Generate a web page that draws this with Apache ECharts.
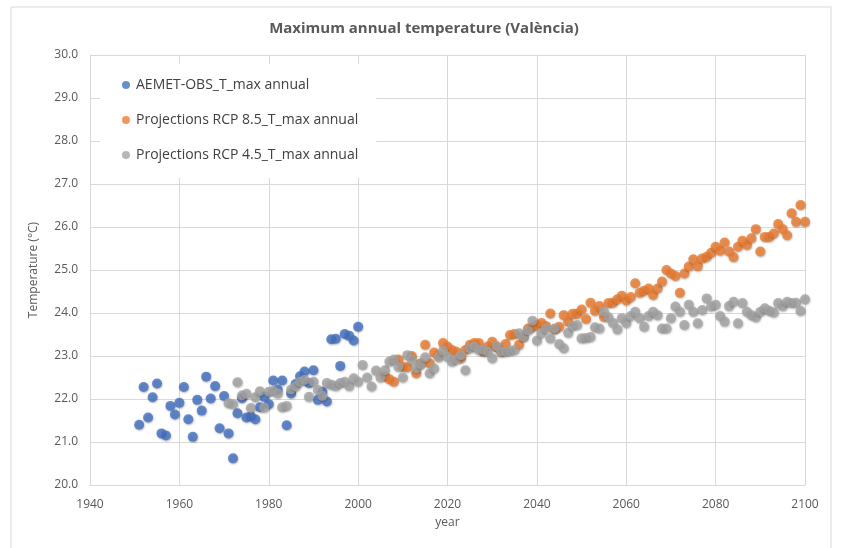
<!DOCTYPE html>
<html>
<head>
<meta charset="utf-8">
<script src="https://cdn.jsdelivr.net/npm/echarts@6/dist/echarts.min.js"></script>
<style>html,body{margin:0;padding:0;background:#fff}#c{width:848px;height:548px}</style>
</head>
<body>
<div id="c"></div>
<script>
// ---- data ----
const titleText = 'Maximum annual temperature (València)';
const seriesNames = ['AEMET-OBS_T_max annual', 'Projections RCP 8.5_T_max annual', 'Projections RCP 4.5_T_max annual'];
const xTicks = [1940, 1960, 1980, 2000, 2020, 2040, 2060, 2080, 2100];
const yTicks = [20, 21, 22, 23, 24, 25, 26, 27, 28, 29, 30];

const obsStartYear = 1951;
const obsValues = [
  21.40, 22.28, 21.57, 22.04, 22.36, 21.20, 21.15, 21.84, 21.64, 21.91,
  22.28, 21.53, 21.12, 21.98, 21.73, 22.52, 22.01, 22.30, 21.32, 22.07,
  21.20, 20.62, 21.67, 22.02, 21.57, 21.60, 21.53, 21.81, 22.05, 21.88,
  22.43, 22.22, 22.43, 21.39, 22.13, 22.35, 22.53, 22.64, 22.37, 22.67,
  21.98, 22.17, 21.94, 23.39, 23.40, 22.77, 23.51, 23.47, 23.36, 23.68
];

const rcp85StartYear = 2006;
const rcp85Values = [
  22.53, 22.46, 22.40, 22.92,
  22.75, 22.74, 23.00, 22.60, 22.83, 23.26, 22.83, 23.08, 23.02, 23.30,
  23.22, 23.14, 23.10, 22.95, 23.14, 23.26, 23.30, 23.30, 23.10, 23.22,
  23.33, 23.20, 23.10, 23.28, 23.49, 23.51, 23.26, 23.45, 23.64, 23.67,
  23.72, 23.77, 23.70, 23.99, 23.62, 23.68, 23.95, 23.80, 23.98, 23.98,
  24.08, 23.86, 24.24, 24.05, 24.16, 23.91, 24.23, 24.24, 24.32, 24.40,
  24.29, 24.37, 24.69, 24.47, 24.52, 24.57, 24.42, 24.57, 24.73, 25.00,
  24.92, 24.86, 24.47, 24.92, 25.08, 25.25, 25.09, 25.27, 25.31, 25.40,
  25.54, 25.45, 25.64, 25.43, 25.30, 25.54, 25.68, 25.58, 25.74, 25.95,
  25.43, 25.77, 25.77, 25.85, 26.07, 25.95, 25.81, 26.32, 26.12, 26.51,
  26.12
];

const rcp45StartYear = 1971;
const rcp45Values = [
  21.90, 21.88, 22.39, 22.08, 22.12, 21.79, 22.04, 22.18, 21.80,
  22.17, 22.19, 22.13, 21.81, 21.84, 22.22, 22.29, 22.40, 22.44, 22.05,
  22.40, 22.21, 22.07, 22.37, 22.33, 22.30, 22.37, 22.40, 22.30, 22.48,
  22.40, 22.79, 22.50,
  22.29, 22.66, 22.50, 22.67, 22.87, 22.92, 22.75, 22.50, 23.02, 22.91,
  22.71, 22.81, 22.97, 22.60, 22.71, 22.97, 23.12, 22.98, 22.87, 22.92,
  23.02, 22.67, 23.18, 23.22, 23.14, 23.14, 23.10, 22.95, 23.23, 23.10,
  23.10, 23.12, 23.14, 23.53, 23.45, 23.60, 23.82, 23.36, 23.53, 23.64,
  23.41, 23.64, 23.28, 23.18, 23.54, 23.70, 23.72,
  23.41, 23.42, 23.44, 23.67, 23.64, 24.03, 23.90, 23.77, 23.62, 23.88,
  23.77, 23.93, 24.03, 23.88, 23.68, 23.93, 24.03, 23.95, 23.64, 23.64,
  23.88, 24.15, 24.03, 23.72, 24.19, 24.03, 23.76, 24.07, 24.34, 24.15,
  24.19, 23.93, 23.80, 24.16, 24.26, 23.76, 24.23, 24.03, 23.95, 23.90,
  24.03, 24.11, 24.05, 24.01, 24.23, 24.16, 24.26, 24.23, 24.24, 24.05, 24.32
];

function pairs(start, vals) { return vals.map((v, i) => [start + i, v]); }

const colors = ['#4472C4', '#ED7D31', '#A5A5A5'];
const FONT = 'Open Sans';
const txt = '#595959';
const gridCol = '#d9d9d9';

const chart = echarts.init(document.getElementById('c'), null, {renderer: 'canvas'});
function sc(name, data, color) {
  return {
    name: name, type: 'scatter', data: data, symbol: 'circle', symbolSize: 10,
    itemStyle: {color: color, shadowBlur: 2, shadowColor: 'rgba(0,0,0,0.35)', shadowOffsetX: 0.5, shadowOffsetY: 1},
    emphasis: {disabled: true}
  };
}
chart.setOption({
  animation: false,
  backgroundColor: '#fff',
  graphic: [{type: 'rect', shape: {x: 11, y: 7, width: 820, height: 560}, style: {fill: 'none', stroke: '#d9d9d9', lineWidth: 1}, z: -10}],
  title: {
    text: titleText, left: 'center', top: 16,
    textStyle: {fontFamily: FONT, fontSize: 15, fontWeight: 'bold', color: txt}
  },
  legend: {
    orient: 'vertical', left: 100, top: 64, padding: [14, 18, 16, 22], itemGap: 21,
    backgroundColor: '#fff', icon: 'circle', itemWidth: 8, itemHeight: 8,
    textStyle: {fontFamily: FONT, fontSize: 14, color: '#404040', padding: [0, 0, 0, 1]},
    data: seriesNames, z: 10
  },
  grid: {left: 90, right: 43, top: 55, bottom: 63, containLabel: false},
  xAxis: {
    type: 'value', min: xTicks[0], max: xTicks[xTicks.length - 1], interval: 20,
    name: 'year', nameLocation: 'middle', nameGap: 32,
    nameTextStyle: {fontFamily: FONT, fontSize: 12, color: txt},
    axisLine: {show: true, lineStyle: {color: gridCol}},
    axisTick: {show: false},
    axisLabel: {fontFamily: FONT, fontSize: 12, color: txt, margin: 14, formatter: v => String(v)},
    splitLine: {show: true, lineStyle: {color: gridCol}}
  },
  yAxis: {
    type: 'value', min: yTicks[0], max: yTicks[yTicks.length - 1], interval: 1,
    name: 'Temperature (°C)', nameLocation: 'middle', nameGap: 50,
    nameTextStyle: {fontFamily: FONT, fontSize: 12, color: txt},
    axisLine: {show: true, lineStyle: {color: gridCol}},
    axisTick: {show: false},
    axisLabel: {fontFamily: FONT, fontSize: 12, color: txt, margin: 12, formatter: v => v.toFixed(1)},
    splitLine: {show: true, lineStyle: {color: gridCol}}
  },
  series: [
    sc(seriesNames[0], pairs(obsStartYear, obsValues), colors[0]),
    sc(seriesNames[1], pairs(rcp85StartYear, rcp85Values), colors[1]),
    sc(seriesNames[2], pairs(rcp45StartYear, rcp45Values), colors[2])
  ]
});
</script>
</body>
</html>
